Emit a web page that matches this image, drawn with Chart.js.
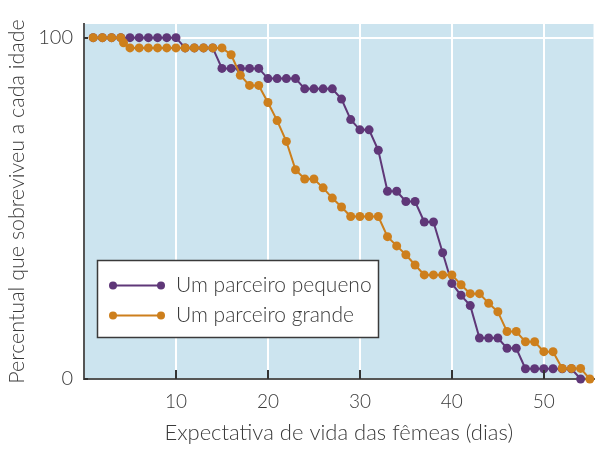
<!DOCTYPE html>
<html>
<head>
<meta charset="utf-8">
<script src="https://cdn.jsdelivr.net/npm/chart.js@4/dist/chart.umd.min.js"></script>
<style>
  html, body { margin: 0; padding: 0; background: #ffffff; }
  #wrap { width: 598px; height: 449px; }
</style>
</head>
<body>
<div id="wrap"><canvas id="chart" width="598" height="449"></canvas></div>
<script>
// survival curves (days, % alive)
const smallDays = [1, 2, 3, 4, 5, 6, 7, 8, 9, 10, 11, 12, 13, 14, 15, 16, 17, 18, 19, 20,
  21, 22, 23, 24, 25, 26, 27, 28, 29, 30, 31, 32, 33, 34, 35, 36, 37, 38, 39, 40,
  41, 42, 43, 44, 45, 46, 47, 48, 49, 50, 51, 52, 53, 54];
const smallValues = [100, 100, 100, 100, 100, 100, 100, 100, 100, 100, 97, 97, 97, 97, 91, 91, 91, 91, 91, 88,
  88, 88, 88, 85, 85, 85, 85, 82, 76, 73, 73, 67, 55, 55, 52, 52, 46, 46, 37, 28,
  24.5, 21.5, 12, 12, 12, 9, 9, 3, 3, 3, 3, 3, 3, 0];

const largeDays = [1, 2, 3, 4, 4.3, 5, 6, 7, 8, 9, 10, 11, 12, 13, 14, 15, 16, 17, 18, 19, 20,
  21, 22, 23, 24, 25, 26, 27, 28, 29, 30, 31, 32, 33, 34, 35, 36, 37, 38, 39, 40,
  41, 42, 43, 44, 45, 46, 47, 48, 49, 50, 51, 52, 53, 54, 55];
const largeValues = [100, 100, 100, 100, 98.5, 97, 97, 97, 97, 97, 97, 97, 97, 97, 97, 97, 95, 89, 86, 86, 81,
  75.7, 69.6, 61.3, 58.6, 58.6, 56, 53, 50.4, 47.6, 47.6, 47.6, 47.6, 41.7, 39, 36.4, 33.4, 30.5, 30.5, 30.5, 30.5,
  27.6, 25, 25, 22.2, 19.7, 13.9, 13.9, 10.9, 10.9, 8, 8, 3.1, 3.1, 3.1, 0];

const xTicks = [10, 20, 30, 40, 50];
const yTicks = [0, 100];

const seriesNames = ['Um parceiro pequeno', 'Um parceiro grande'];
const purple = '#5f3778';
const orange = '#cd7f1c';
const textColor = '#3a3a3a';
const axisColor = '#555555';
const fontFamily = 'Lato, "Open Sans", sans-serif';

const toPoints = (xs, ys) => xs.map((x, i) => ({ x, y: ys[i] }));

const plotBackground = {
  id: 'plotBackground',
  beforeDraw(chart) {
    const { ctx, chartArea } = chart;
    ctx.save();
    ctx.fillStyle = '#cce4ef';
    ctx.fillRect(chartArea.left, chartArea.top, chartArea.right - chartArea.left, chartArea.bottom - chartArea.top);
    ctx.restore();
  }
};

// small tick marks pointing into the plot
const innerTicks = {
  id: 'innerTicks',
  afterDatasetsDraw(chart) {
    const { ctx, chartArea, scales } = chart;
    ctx.save();
    ctx.strokeStyle = '#333333';
    ctx.lineWidth = 2;
    ctx.beginPath();
    xTicks.forEach((v) => {
      const px = Math.round(scales.x.getPixelForValue(v));
      ctx.moveTo(px, chartArea.bottom);
      ctx.lineTo(px, chartArea.bottom - 9);
    });
    yTicks.forEach((v) => {
      const py = Math.round(scales.y.getPixelForValue(v));
      ctx.moveTo(chartArea.left, py);
      ctx.lineTo(chartArea.left + 4, py);
    });
    ctx.stroke();
    ctx.restore();
  }
};

const boxLegend = {
  id: 'boxLegend',
  afterDraw(chart) {
    const { ctx } = chart;
    const box = { x: 97.5, y: 260.5, w: 281, h: 77 };
    const colors = [purple, orange];
    ctx.save();
    ctx.fillStyle = '#ffffff';
    ctx.fillRect(box.x, box.y, box.w, box.h);
    ctx.strokeStyle = '#3a3a3a';
    ctx.lineWidth = 1.5;
    ctx.strokeRect(box.x, box.y, box.w, box.h);
    seriesNames.forEach((name, i) => {
      const y = 285.5 + i * 30;
      ctx.strokeStyle = colors[i];
      ctx.lineWidth = 2;
      ctx.beginPath();
      ctx.moveTo(113, y);
      ctx.lineTo(161, y);
      ctx.stroke();
      ctx.fillStyle = colors[i];
      [113, 161].forEach((x) => {
        ctx.beginPath();
        ctx.arc(x, y, 4, 0, Math.PI * 2);
        ctx.fill();
      });
      ctx.fillStyle = textColor;
      ctx.font = '300 21px ' + fontFamily;
      ctx.textBaseline = 'middle';
      ctx.fillText(name, 176, y);
    });
    ctx.restore();
  }
};

new Chart(document.getElementById('chart'), {
  type: 'line',
  data: {
    datasets: [
      {
        label: seriesNames[0],
        data: toPoints(smallDays, smallValues),
        borderColor: purple,
        backgroundColor: purple,
        borderWidth: 2,
        pointRadius: 4.5,
        pointBorderWidth: 0,
        tension: 0,
        order: 2
      },
      {
        label: seriesNames[1],
        data: toPoints(largeDays, largeValues),
        borderColor: orange,
        backgroundColor: orange,
        borderWidth: 2,
        pointRadius: 4.5,
        pointBorderWidth: 0,
        tension: 0,
        order: 1
      }
    ]
  },
  options: {
    responsive: false,
    animation: false,
    clip: false,
    layout: { padding: { top: 24, right: 2, left: 0, bottom: 0 } },
    plugins: {
      legend: { display: false },
      tooltip: { enabled: false }
    },
    scales: {
      x: {
        type: 'linear',
        min: 0,
        max: 55.4,
        afterBuildTicks: (scale) => { scale.ticks = xTicks.map((v) => ({ value: v })); },
        afterFit: (scale) => { scale.height = 70; },
        grid: { color: '#ffffff', lineWidth: 2, drawTicks: false },
        border: { color: axisColor, width: 2 },
        ticks: { color: textColor, font: { family: fontFamily, size: 19, weight: 300 }, padding: 11, maxRotation: 0 },
        title: {
          display: true,
          text: 'Expectativa de vida das fêmeas (dias)',
          color: textColor,
          font: { family: fontFamily, size: 22, weight: 300 },
          padding: { top: 0, bottom: 3 }
        }
      },
      y: {
        min: 0,
        max: 104,
        afterBuildTicks: (scale) => { scale.ticks = yTicks.map((v) => ({ value: v })); },
        afterFit: (scale) => { scale.width = 84; },
        grid: {
          color: (c) => (c.tick && c.tick.value === 100 ? '#ffffff' : 'rgba(0,0,0,0)'),
          lineWidth: 2,
          drawTicks: false
        },
        border: { color: axisColor, width: 2 },
        ticks: { color: textColor, font: { family: fontFamily, size: 20, weight: 300 }, padding: 11 },
        title: {
          display: true,
          text: 'Percentual que sobreviveu a cada idade',
          color: textColor,
          font: { family: fontFamily, size: 21.5, weight: 300 },
          padding: { top: 4, bottom: 0 }
        }
      }
    }
  },
  plugins: [plotBackground, innerTicks, boxLegend]
});
</script>
</body>
</html>
